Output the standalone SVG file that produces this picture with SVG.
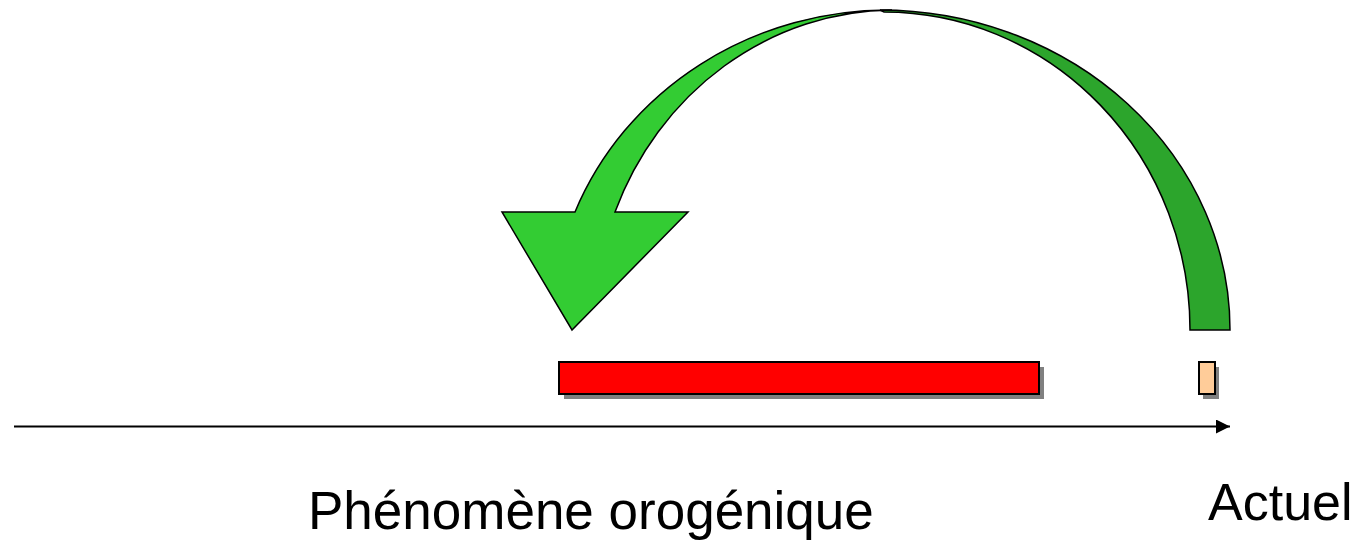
<svg xmlns="http://www.w3.org/2000/svg" width="1362" height="542" viewBox="0 0 1362 542">
<style>
.lbl{font-family:"Liberation Sans",Arial,sans-serif;font-size:52px;fill:#000}
.big{font-size:53px}
.shadow{fill:#808080}
.box{stroke:#000;stroke-width:2}
.arr{stroke:#000;stroke-width:1.5;stroke-linejoin:miter}
</style>
<defs>
<marker id="ah" viewBox="0 0 10 10" refX="10" refY="5" markerWidth="15" markerHeight="14" markerUnits="userSpaceOnUse" orient="auto">
<path d="M0,0 L10,5 L0,10 Z" fill="#000"/>
</marker>
</defs>
<rect width="1362" height="542" fill="#fff"/>
<g id="connectors">
<line x1="14" y1="426.5" x2="1230" y2="426.5" stroke="#000" stroke-width="2" marker-end="url(#ah)"/>
</g>
<g id="curved-arrow">
<path class="arr" fill="#2CA52C" d="M880,10 A350,320 0 0 1 1230,330 L1190,330 A306,318 0 0 0 884,12 Z"/>
<path class="arr" fill="#33CC33" d="M502,212 L575,212 A337,320 0 0 1 892,10 A300,318 0 0 0 615,212 L688,212 L572,330 Z"/>
</g>
<g id="phenomene-bar">
<rect class="shadow" x="564" y="367" width="480" height="32"/>
<rect class="box" x="559" y="362" width="480" height="32" fill="#FF0000"/>
</g>
<g id="actuel-bar">
<rect class="shadow" x="1203" y="367" width="16" height="32"/>
<rect class="box" x="1199" y="362" width="16" height="32" fill="#FFCC99"/>
</g>
<g id="label-phenomene">
<text class="lbl big" x="308" y="529">Phénomène orogénique</text>
</g>
<g id="label-actuel">
<text class="lbl" x="1208" y="520">Actuel</text>
</g>
</svg>
